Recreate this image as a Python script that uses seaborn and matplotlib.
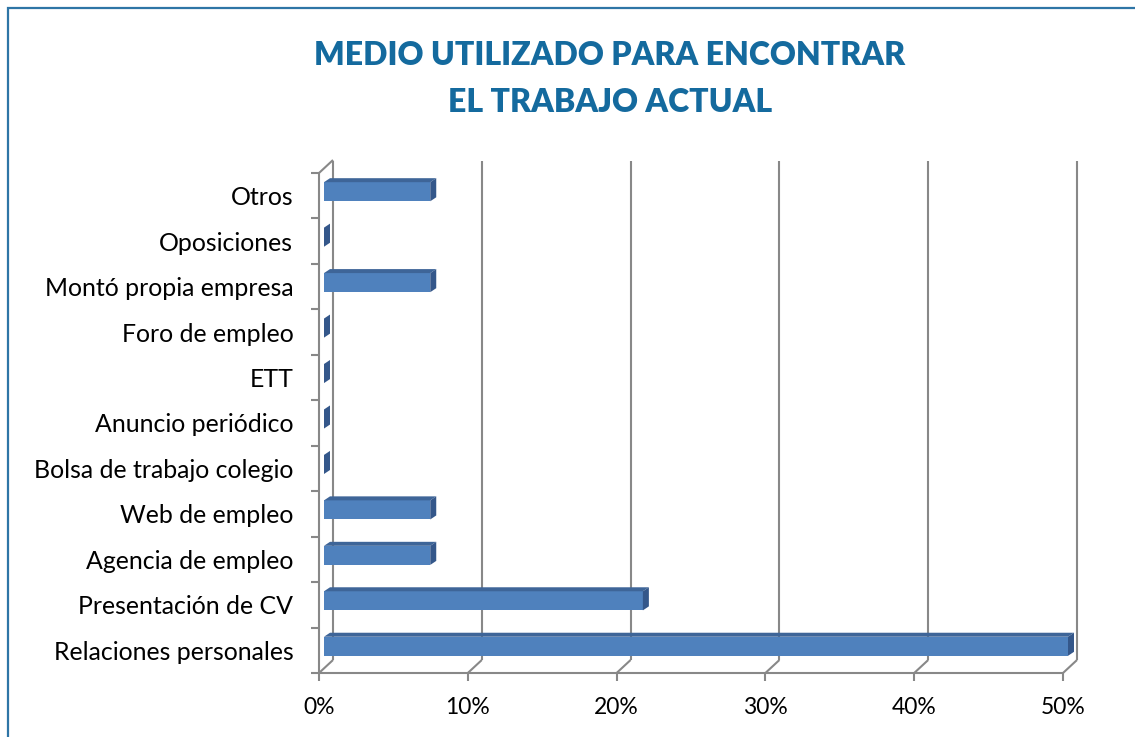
import numpy as np
import pandas as pd
import matplotlib
matplotlib.use("Agg")
import matplotlib.pyplot as plt
import seaborn as sns
from matplotlib.patches import Polygon, Rectangle
from matplotlib.lines import Line2D
from matplotlib.transforms import Affine2D, IdentityTransform

# ---- data ----
categories = ["Otros", "Oposiciones", "Montó propia empresa", "Foro de empleo", "ETT",
              "Anuncio periódico", "Bolsa de trabajo colegio", "Web de empleo",
              "Agencia de empleo", "Presentación de CV", "Relaciones personales"]
values = [7.14, 0, 7.14, 0, 0, 0, 0, 7.14, 7.14, 21.43, 50.0]
xticks = [0, 10, 20, 30, 40, 50]
xtick_labels = ["0%", "10%", "20%", "30%", "40%", "50%"]
title = "MEDIO UTILIZADO PARA ENCONTRAR\nEL TRABAJO ACTUAL"

W, H = 1135, 737
sns.set_style("white")
plt.rcParams['font.family'] = ['Lato', 'DejaVu Sans']

fig = plt.figure(figsize=(W / 100, H / 100), dpi=100)
fig.patch.set_facecolor("white")

# front plane axes
ax = fig.add_axes([319 / W, 1 - 673 / H, 744 / W, 500 / H])
ax.patch.set_visible(False)
df = pd.DataFrame({"cat": categories, "val": values})
sns.barplot(data=df, x="val", y="cat", order=categories, color="#4F81BD",
            saturation=1, width=0.42, ax=ax, zorder=3)
ax.set_xlim(0, 50)
ax.set_ylim(10.5, -0.5)
ax.set_xlabel("")
ax.set_ylabel("")
for s in ax.spines.values():
    s.set_visible(False)
ax.set_xticks(xticks)
ax.set_xticklabels(xtick_labels, fontsize=16.5)
ax.tick_params(axis="x", length=0, pad=17.5, labelcolor="black")
ax.tick_params(axis="y", length=0, pad=18.5, labelsize=17.9, labelcolor="black")
ax.grid(False)

grey = "#888888"
lw = 1.5
ident = IdentityTransform()

def px(x, y):
    return ax.transData.transform((x, y))

# offsets (display px)
bdx, bdy = 5, 4        # bar plane
ddx, ddy = 6, 4        # bar depth
wdx, wdy = 14, 13      # back wall

def add_line(xs, ys, z=1):
    ax.add_line(Line2D(xs, ys, color=grey, lw=lw, transform=ident, clip_on=False, zorder=z,
                       solid_capstyle="butt"))

# back-wall gridlines and floor diagonals
ytop_back = H - 161
for t in xticks:
    fx, fy = px(t, 10.5)
    add_line([fx + wdx, fx + wdx], [fy + wdy, ytop_back])
    add_line([fx, fx + wdx], [fy, fy + wdy])
    add_line([fx, fx], [fy, fy - 8])  # tick down
# front bottom axis
x0, y0 = px(0, 10.5)
x1, _ = px(50, 10.5)
add_line([x0, x1], [y0, y0])
# left front vertical axis
_, ytopf = px(0, -0.5)
add_line([x0, x0], [y0, ytopf])
add_line([x0, x0 + wdx], [ytopf, ytopf + wdy])
# y ticks at band edges
for e in np.arange(-0.5, 10.6, 1.0):
    ex, ey = px(0, e)
    add_line([ex - 8, ex], [ey, ey])

# shift bars to their plane and add 3D faces
top_c = "#3E6598"
side_c = "#34578A"
for p in list(ax.patches):
    p.set_transform(ax.transData + Affine2D().translate(bdx, bdy))
    p.set_edgecolor("none")
    p.set_clip_on(False)
    xa, ya = p.get_x(), p.get_y()
    w, h = p.get_width(), p.get_height()
    (ax_, ay_), (bx_, by_) = px(xa, ya), px(xa + w, ya + h)
    left, right = min(ax_, bx_) + bdx, max(ax_, bx_) + bdx
    bot, top = min(ay_, by_) + bdy, max(ay_, by_) + bdy
    topface = Polygon([(left, top), (right, top), (right + ddx, top + ddy), (left + ddx, top + ddy)],
                      closed=True, facecolor=top_c, edgecolor="none", transform=ident,
                      clip_on=False, zorder=3.1)
    sideface = Polygon([(right, bot), (right, top), (right + ddx, top + ddy), (right + ddx, bot + ddy)],
                       closed=True, facecolor=side_c, edgecolor="none", transform=ident,
                       clip_on=False, zorder=3.2)
    ax.add_patch(topface)
    ax.add_patch(sideface)

# title
fig.text(610 / W, 1 - 79 / H, title, ha="center", va="center", fontsize=23,
         fontweight="heavy", color="#146A9E", linespacing=1.78)

# outer border
fig.add_artist(Rectangle((8 / W, -0.05), 1.2, 1 - 8 / H + 0.05, transform=fig.transFigure,
                         fill=False, edgecolor="#2E75A6", lw=1.6))

fig.savefig("out.png", dpi=100)
